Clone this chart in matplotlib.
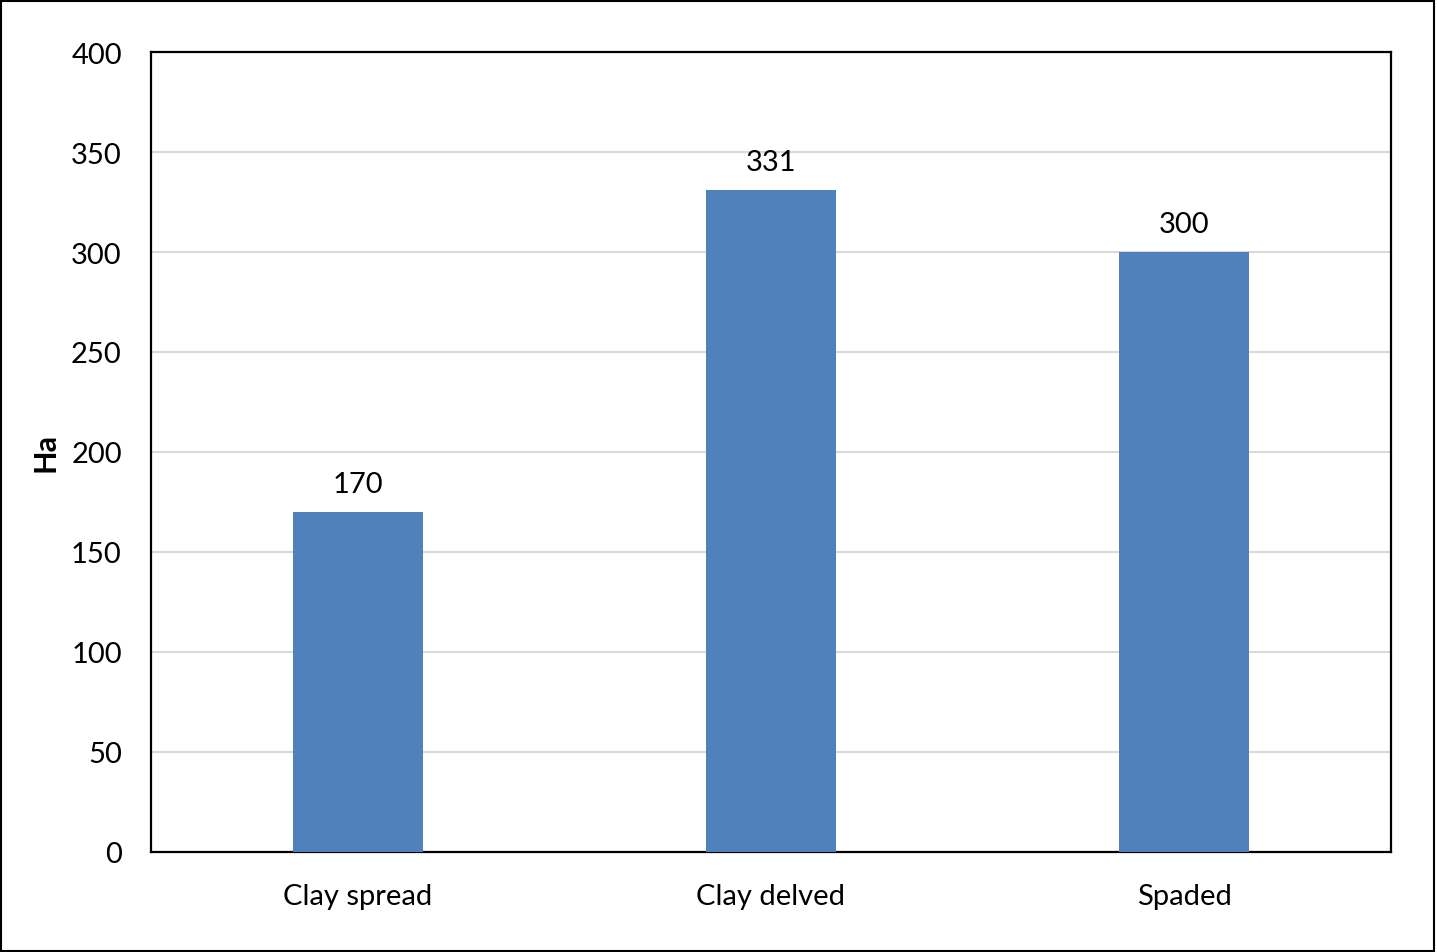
import matplotlib.pyplot as plt
from matplotlib.patches import Rectangle

categories = ["Clay spread", "Clay delved", "Spaded"]
values = [170, 331, 300]
yticks = [0, 50, 100, 150, 200, 250, 300, 350, 400]

plt.rcParams['font.family'] = ['Lato', 'DejaVu Sans']

fig = plt.figure(figsize=(14.37, 9.53), dpi=100)
ax = fig.add_axes([151 / 1437, 1 - 853 / 953, 1240 / 1437, 800 / 953])

x = range(len(categories))
bars = ax.bar(x, values, width=0.315, color="#4F81BD", zorder=3)
for b, v in zip(bars, values):
    ax.annotate(str(v), (b.get_x() + b.get_width() / 2, v), xytext=(0, 11),
                textcoords="offset points", ha="center", va="bottom", fontsize=21)

ax.set_xlim(-0.5, len(categories) - 0.5)
ax.set_ylim(0, 400)
ax.set_yticks(yticks)
ax.set_xticks(list(x))
ax.set_xticklabels(categories)
ax.tick_params(axis="both", length=0, labelsize=21)
ax.tick_params(axis="y", pad=21)
ax.tick_params(axis="x", pad=22)
ax.yaxis.grid(True, color="#D9D9D9", linewidth=1.5, zorder=0)
ax.set_axisbelow(True)
for s in ax.spines.values():
    s.set_linewidth(1.6)
    s.set_color("black")
ax.set_ylabel("Ha", fontsize=22, fontweight="bold", labelpad=8)

fig.patches.append(Rectangle((0.001, 0.001), 0.997, 0.997, transform=fig.transFigure,
                             fill=False, edgecolor="black", linewidth=1.5))

fig.savefig("out.png", dpi=100)
